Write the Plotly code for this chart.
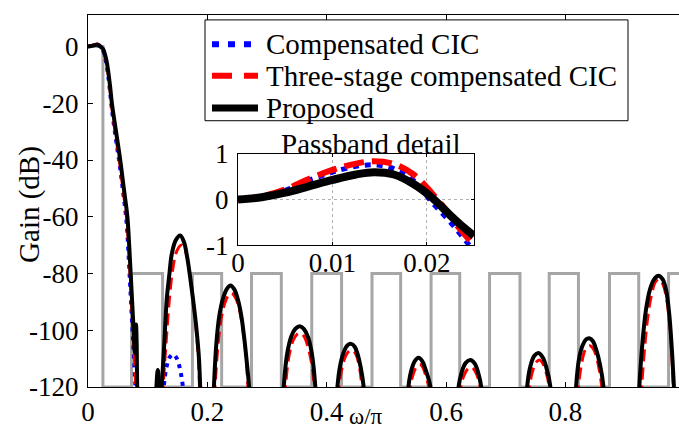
import plotly.graph_objects as go

# ---------------- data ----------------
# mask (gray) : band edges in omega/pi and the level of each band (dB)
mask_edges = [0.025, 0.073, 0.125, 0.175, 0.224, 0.274, 0.324, 0.375, 0.425, 0.476,
              0.524, 0.575, 0.623, 0.673, 0.724, 0.773, 0.822, 0.874, 0.923, 0.973]
mask_levels = [0, -120, -80, -120, -80, -120, -80, -120, -80, -120, -80,
               -120, -80, -120, -80, -120, -80, -120, -80, -120, -80]

# Proposed (black) magnitude response, dB ; None separates visible pieces
prop_w = [0, 0.005, 0.01, 0.0144, 0.018, 0.0205, 0.0225, 0.025, 0.028, 0.031, 0.034, 0.037, 0.040,
          0.047, 0.054, 0.060, 0.066, 0.069, 0.0715, 0.074, 0.0765, 0.0785, 0.0805, 0.0815, 0.0825, 0.0835, 0.085, None,
          0.1125, 0.117, 0.121, None,
          0.1215, 0.1235, 0.127, 0.132, 0.1365, 0.1405, 0.147, 0.1545, 0.161, 0.166, 0.171, 0.176, 0.182, 0.186, 0.188, 0.190, None,
          0.209, 0.211, 0.215, 0.220, 0.226, 0.233, 0.239, 0.245, 0.251, 0.257, 0.262, 0.266, 0.270, 0.272, None,
          0.326, 0.328, 0.334, 0.341, 0.348, 0.355, 0.362, 0.369, 0.375, 0.381, 0.383, None,
          0.416, 0.418, 0.423, 0.429, 0.435, 0.441, 0.447, 0.452, 0.457, 0.462, 0.464, None,
          0.535, 0.537, 0.542, 0.548, 0.554, 0.560, 0.566, 0.574, 0.576, None,
          0.619, 0.621, 0.626, 0.633, 0.641, 0.648, 0.654, 0.659, 0.661, None,
          0.734, 0.736, 0.741, 0.748, 0.755, 0.762, 0.768, 0.775, 0.777, None,
          0.816, 0.818, 0.823, 0.829, 0.835, 0.840, 0.846, 0.852, 0.858, 0.864, 0.866, None,
          0.922, 0.924, 0.929, 0.935, 0.942, 0.949, 0.956, 0.963, 0.969, 0.974, 0.978, 0.982, 0.984]
prop_db = [0, 0.15, 0.43, 0.6, 0.38, 0.05, -0.35, -0.8, -2.5, -5, -9, -14, -20,
           -30, -40, -50, -60, -70, -80, -90, -100, -108, -98, -104, -120, -124, -132, None,
           -130, -114, -130, None,
           -130, -120, -108, -89, -80, -73, -68.3, -66.6, -69, -74, -81, -89, -100, -110, -120, -132, None,
           -130, -120, -105, -95, -89, -85.3, -84.2, -85.5, -89, -95, -103, -111, -120, -130, None,
           -130, -120, -108, -102, -99.4, -98.6, -99.6, -102.5, -108, -120, -130, None,
           -130, -120, -112, -107.5, -105.3, -104.8, -105.8, -108.5, -113, -120, -130, None,
           -130, -120, -114, -110.8, -109.7, -110.8, -114, -120, -130, None,
           -130, -120, -115, -111.5, -110.5, -111.7, -115, -120, -130, None,
           -130, -120, -113, -109, -108, -109.5, -113, -120, -130, None,
           -130, -120, -110, -105.3, -103.2, -102.8, -103.8, -107, -112, -120, -130, None,
           -130, -120, -105, -93, -85.5, -82, -80.8, -82, -86, -94, -105, -120, -130]

# Three-stage compensated CIC (red dashed)
three_w = [0, 0.005, 0.01, 0.0145, 0.018, 0.0205, 0.0225, 0.025, 0.028, 0.031, 0.034, 0.037, 0.040,
           0.046, 0.053, 0.059, 0.065, 0.068, 0.0705, 0.073, 0.0755, 0.078, 0.0805, 0.082, None,
           0.1245, 0.126, 0.131, 0.136, 0.142, 0.149, 0.157, 0.164, 0.170, 0.176, 0.181, 0.185, 0.187, 0.189, None,
           0.211, 0.213, 0.218, 0.224, 0.230, 0.236, 0.241, 0.247, 0.253, 0.259, 0.264, 0.268, 0.270, None,
           0.329, 0.331, 0.337, 0.344, 0.351, 0.357, 0.363, 0.370, 0.375, 0.379, 0.381, None,
           0.419, 0.421, 0.426, 0.432, 0.438, 0.443, 0.449, 0.454, 0.459, 0.461, None,
           0.538, 0.540, 0.545, 0.550, 0.556, 0.561, 0.566, 0.571, 0.573, None,
           0.623, 0.625, 0.630, 0.637, 0.643, 0.649, 0.654, 0.657, 0.659, None,
           0.738, 0.740, 0.745, 0.751, 0.757, 0.763, 0.768, 0.773, 0.775, None,
           0.820, 0.822, 0.827, 0.833, 0.838, 0.842, 0.848, 0.854, 0.861, 0.863, None,
           0.926, 0.928, 0.933, 0.939, 0.945, 0.951, 0.957, 0.963, 0.969, 0.974, 0.978, 0.981, 0.983]
three_db = [0, 0.22, 0.65, 0.84, 0.6, 0.15, -0.35, -1.0, -3, -6, -10, -15.5, -21.5,
            -31, -41, -51, -61, -71, -81, -91, -101, -111, -122, -132, None,
            -130, -120, -104, -90, -78.5, -72, -70, -72.5, -79, -89, -99, -110, -120, -132, None,
            -130, -120, -105, -95, -90, -87.5, -87, -88.5, -92, -99, -107, -120, -130, None,
            -130, -120, -109, -103.5, -101.3, -101, -102.5, -107, -112, -120, -130, None,
            -130, -120, -113, -109, -107.3, -107, -108.5, -112, -120, -130, None,
            -130, -120, -115.5, -113, -112, -113, -116, -120, -130, None,
            -130, -120, -116, -113.5, -113, -114.5, -117, -120, -130, None,
            -130, -120, -114.5, -111.3, -110.5, -112, -115, -120, -130, None,
            -130, -120, -112, -107, -105.7, -105.5, -107, -111, -120, -130, None,
            -130, -120, -106, -94, -87, -83, -82, -83.5, -88, -96, -107, -120, -130]

# Compensated CIC (blue dotted)
comp_w = [0, 0.005, 0.01, 0.0145, 0.018, 0.0205, 0.0225, 0.0245, 0.028, 0.031, 0.034, 0.037, 0.040,
          0.046, 0.053, 0.059, 0.0645, 0.0675, 0.070, 0.0725, 0.075, 0.0775, 0.080, 0.0815, None,
          0.124, 0.127, 0.1315, 0.137, 0.143, 0.149, 0.1545, 0.159, 0.162]
comp_db = [0, 0.2, 0.6, 0.76, 0.45, -0.05, -0.5, -1.0, -3.2, -6.3, -10.5, -16, -22,
           -31.5, -41.5, -51.5, -61.5, -71.5, -81.5, -91.5, -101.5, -111.5, -122, -132, None,
           -132, -120, -113, -109.5, -108.5, -110, -114, -120, -132]

# Passband detail (inset)
pb_w = [0, 0.0025, 0.005, 0.0075, 0.010, 0.0125, 0.0144, 0.0165, 0.0186, 0.0205, 0.0225, 0.0234, 0.025]
pb_prop = [0, 0.05, 0.15, 0.29, 0.43, 0.55, 0.60, 0.55, 0.34, 0.05, -0.35, -0.52, -0.80]
pb_three = [0, 0.07, 0.22, 0.45, 0.65, 0.79, 0.84, 0.78, 0.55, 0.15, -0.35, -0.62, -1.0]
pb_comp_w = [0, 0.0025, 0.005, 0.0075, 0.010, 0.0125, 0.0145, 0.0165, 0.0186, 0.0205, 0.0225, 0.0245, 0.026]
pb_comp = [0, 0.06, 0.20, 0.42, 0.60, 0.73, 0.76, 0.68, 0.42, -0.05, -0.50, -1.0, -1.35]

x_ticks = [0, 0.2, 0.4, 0.6, 0.8]
x_ticktext = ["0", "0.2", "0.4", "0.6", "0.8"]
y_ticks = [-120, -100, -80, -60, -40, -20, 0]
y_ticktext = ["-120", "-100", "-80", "-60", "-40", "-20", "0"]
in_x_ticks = [0, 0.01, 0.02]
in_x_ticktext = ["0", "0.01", "0.02"]
in_y_ticks = [-1, 0, 1]
in_y_ticktext = ["-1", "0", "1"]

names = ["Compensated CIC", "Three-stage compensated CIC", "Proposed"]

# ---------------- figure ----------------
FONT = "Liberation Serif"
BLUE, RED, BLACK, GRAY = "#0000ff", "#ff0000", "#000000", "#a6a6a6"

mask_x = [0]
mask_y = [mask_levels[0]]
for i, e in enumerate(mask_edges):
    mask_x += [e, e]
    mask_y += [mask_levels[i], mask_levels[i + 1]]
mask_x.append(1.0)
mask_y.append(mask_levels[-1])

fig = go.Figure()
fig.add_trace(go.Scatter(x=mask_x, y=mask_y, mode="lines", line=dict(color=GRAY, width=3),
                         showlegend=False, hoverinfo="skip"))
fig.add_trace(go.Scatter(x=comp_w, y=comp_db, mode="lines", line=dict(color=BLUE, width=4, dash="4px,5px"),
                         line_shape="spline", showlegend=False))
fig.add_trace(go.Scatter(x=three_w, y=three_db, mode="lines", line=dict(color=RED, width=3, dash="12px,6px"),
                         line_shape="spline", showlegend=False))
fig.add_trace(go.Scatter(x=prop_w, y=prop_db, mode="lines", line=dict(color=BLACK, width=4),
                         line_shape="spline", showlegend=False))

# inset
fig.add_trace(go.Scatter(x=pb_comp_w, y=pb_comp, mode="lines", xaxis="x2", yaxis="y2",
                         line=dict(color=BLUE, width=5, dash="6px,6px"), line_shape="spline", showlegend=False))
fig.add_trace(go.Scatter(x=pb_w, y=pb_three, mode="lines", xaxis="x2", yaxis="y2",
                         line=dict(color=RED, width=6, dash="20px,8px"), line_shape="spline", showlegend=False))
fig.add_trace(go.Scatter(x=pb_w, y=pb_prop, mode="lines", xaxis="x2", yaxis="y2",
                         line=dict(color=BLACK, width=8), line_shape="spline", showlegend=False))

W, H = 679, 432
L, R, T, B = 88, 0, 7, 45
pw, ph = W - L - R, H - T - B

def px_x(px):
    return (px - L) / pw

def px_y(py):
    return (H - B - py) / ph

# manual legend (box, samples, labels) in paper coordinates
leg_rows = [37, 69, 102]
leg_styles = [dict(color=BLUE, width=6, dash="7px,9px"),
              dict(color=RED, width=6, dash="20px,12px"),
              dict(color=BLACK, width=7)]
shapes = [dict(type="rect", xref="paper", yref="paper", x0=px_x(205), x1=px_x(628),
               y0=px_y(115), y1=px_y(12), line=dict(color="black", width=1), fillcolor="white",
               layer="above")]
annos = []
for row, st, nm in zip(leg_rows, leg_styles, names):
    shapes.append(dict(type="line", xref="paper", yref="paper", x0=px_x(212), x1=px_x(258),
                       y0=px_y(row), y1=px_y(row), line=st, layer="above"))
    annos.append(dict(text=nm, x=px_x(264), y=px_y(row), xref="paper", yref="paper",
                      showarrow=False, xanchor="left", yanchor="middle",
                      font=dict(family=FONT, size=29, color="black")))

annos += [
    dict(text="Gain (dB)", x=px_x(30), y=px_y(201), xref="paper", yref="paper",
         showarrow=False, textangle=-90, font=dict(size=29), xanchor="center", yanchor="middle"),
    dict(text="ω/π", x=px_x(366), y=px_y(417), xref="paper", yref="paper",
         showarrow=False, font=dict(size=23), xanchor="center", yanchor="middle"),
    dict(text="Passband detail", x=px_x(371), y=px_y(139), xref="paper", yref="paper",
         showarrow=False, font=dict(size=29), xanchor="center", yanchor="middle"),
]

fig.update_layout(
    width=W, height=H,
    margin=dict(l=L, r=R, t=T, b=B, pad=0),
    paper_bgcolor="white", plot_bgcolor="white",
    font=dict(family=FONT, size=27, color="black"),
    showlegend=False,
    xaxis=dict(domain=[0, 1], range=[0, 0.9905], tickvals=x_ticks, ticktext=x_ticktext,
               ticks="inside", ticklen=5, tickwidth=1, tickcolor="black",
               showline=True, linecolor="black", linewidth=1, mirror="ticks",
               showgrid=False, zeroline=False, tickfont=dict(size=27), ticklabelstandoff=1),
    yaxis=dict(domain=[0, 1], range=[-120, 11.1], tickvals=y_ticks, ticktext=y_ticktext,
               ticks="inside", ticklen=5, tickwidth=1, tickcolor="black",
               showline=True, linecolor="black", linewidth=1, mirror=False,
               showgrid=False, zeroline=False, tickfont=dict(size=27), ticklabelstandoff=3),
    xaxis2=dict(domain=[px_x(238), px_x(474)], range=[0, 0.025], anchor="y2",
                tickvals=in_x_ticks, ticktext=in_x_ticktext,
                ticks="inside", ticklen=3, tickcolor="black",
                showline=True, linecolor="black", linewidth=1, mirror="ticks",
                showgrid=True, gridcolor="#b0b0b0", griddash="dot", gridwidth=1,
                zeroline=False, tickfont=dict(size=27), ticklabelstandoff=-6),
    yaxis2=dict(domain=[px_y(242), px_y(149)], range=[-1, 1], anchor="x2",
                tickvals=in_y_ticks, ticktext=in_y_ticktext,
                ticks="inside", ticklen=3, tickcolor="black",
                showline=True, linecolor="black", linewidth=1, mirror="ticks",
                showgrid=True, gridcolor="#b0b0b0", griddash="dot", gridwidth=1,
                zeroline=False, tickfont=dict(size=27), ticklabelstandoff=3),
    shapes=shapes,
    annotations=annos,
)

fig.write_html("out.html")
